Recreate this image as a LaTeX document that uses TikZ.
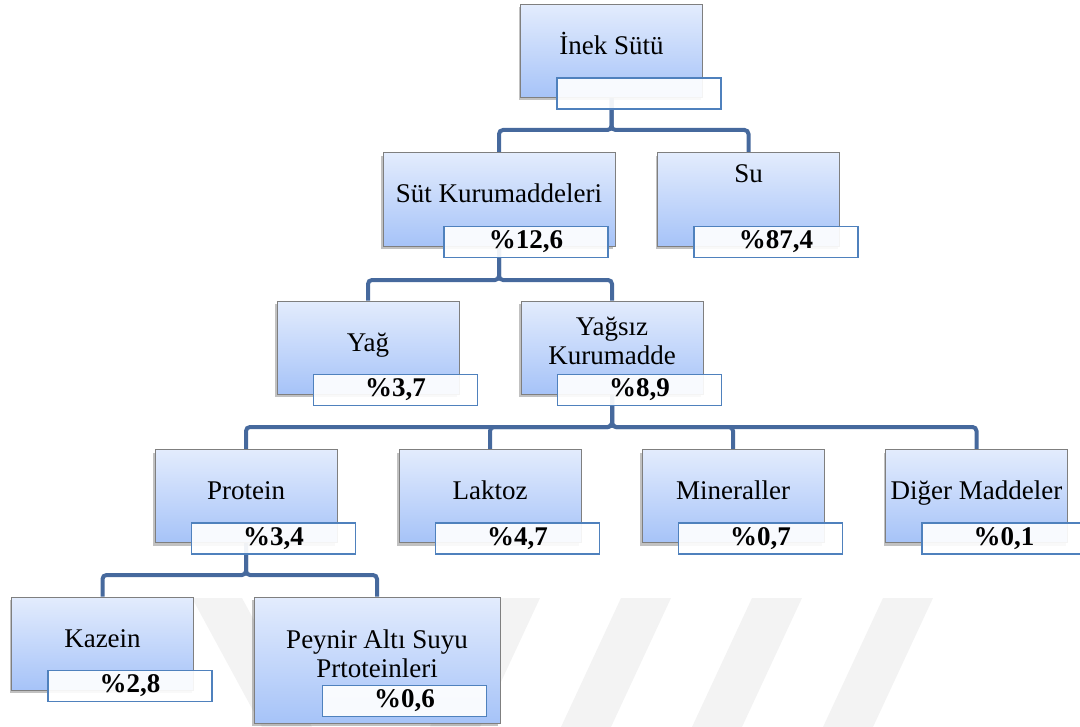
\documentclass[tikz,border=0pt]{standalone}
\usepackage{fontspec}
\setmainfont{Liberation Serif}
\usetikzlibrary{shadows, backgrounds}
\definecolor{kutuust}{HTML}{E3ECFD}
\definecolor{kutualt}{HTML}{A6C3F8}
\definecolor{kutucizgi}{HTML}{7F7F7F}
\definecolor{yuzdecizgi}{HTML}{4F81BD}
\definecolor{baglanti}{HTML}{46699D}
\definecolor{filigran}{HTML}{F3F3F3}

\begin{document}
\begin{tikzpicture}[x=0.5pt, y=-0.5pt,
    kutu/.style={rectangle, draw=kutucizgi, line width=0.5pt, top color=kutuust, bottom color=kutualt,
      minimum width=91pt, minimum height=46.5pt, inner sep=0pt,
      drop shadow={shadow xshift=-1pt, shadow yshift=-1.5pt, opacity=0.35, fill=black!70}},
    yuzde/.style={rectangle, draw=yuzdecizgi, line width=0.8pt, fill=white, fill opacity=0.92, text opacity=1,
      minimum width=82pt, minimum height=15.5pt, inner sep=0pt, font=\fontsize{13.5}{14.5}\selectfont\bfseries},
    ad/.style={inner sep=0pt, anchor=base, align=center, font=\fontsize{13.5}{14.5}\selectfont},
    bag/.style={draw=baglanti, line width=2pt, rounded corners=2pt}]
  \useasboundingbox (0,0) rectangle (1080,727);

  % baglanti hatlari
  \coordinate (bus1) at (0,130);
  \coordinate (bus2) at (0,280);
  \coordinate (bus3) at (0,427);
  \coordinate (bus4) at (0,575);

  % 1. seviye
  \node[kutu] (inek) at (611.5,51) {};
  \node[ad] (inek-a) at ([yshift=-1.75pt]inek.center) {İnek Sütü};
  \node[yuzde] (inek-y) at ([shift={(27.5,42.5)}]inek.center) {};

  % 2. seviye
  \node[kutu, minimum width=116pt] (sut) at (499,199.5) {};
  \node[ad] (sut-a) at ([yshift=-1.75pt]sut.center) {Süt Kurumaddeleri};
  \node[yuzde] (sut-y) at ([shift={(27,42.5)}]sut.center) {\%12,6};

  \node[kutu] (su) at (748.5,199.5) {};
  \node[ad] (su-a) at ([yshift=8.25pt]su.center) {Su};
  \node[yuzde] (su-y) at ([shift={(27.5,42.5)}]su.center) {\%87,4};

  % 3. seviye
  \node[kutu] (yag) at (368,347.5) {};
  \node[ad] (yag-a) at ([yshift=-1.75pt]yag.center) {Yağ};
  \node[yuzde] (yag-y) at ([shift={(27.5,42.5)}]yag.center) {\%3,7};

  \node[kutu] (yagsiz) at (612,347.5) {};
  \node[ad] (yagsiz-a) at ([yshift=-8.25pt]yagsiz.center) {Yağsız\\Kurumadde};
  \node[yuzde] (yagsiz-y) at ([shift={(27.5,42.5)}]yagsiz.center) {\%8,9};

  % 4. seviye
  \node[kutu] (protein) at (246,496) {};
  \node[ad] (protein-a) at ([yshift=-1.75pt]protein.center) {Protein};
  \node[yuzde] (protein-y) at ([shift={(27.5,42.5)}]protein.center) {\%3,4};

  \node[kutu] (laktoz) at (490,496) {};
  \node[ad] (laktoz-a) at ([yshift=-1.75pt]laktoz.center) {Laktoz};
  \node[yuzde] (laktoz-y) at ([shift={(27.5,42.5)}]laktoz.center) {\%4,7};

  \node[kutu] (mineral) at (733,496) {};
  \node[ad] (mineral-a) at ([yshift=-1.75pt]mineral.center) {Mineraller};
  \node[yuzde] (mineral-y) at ([shift={(27.5,42.5)}]mineral.center) {\%0,7};

  \node[kutu] (diger) at (976.5,496) {};
  \node[ad] (diger-a) at ([yshift=-1.75pt]diger.center) {Diğer Maddeler};
  \node[yuzde] (diger-y) at ([shift={(27.5,42.5)}]diger.center) {\%0,1};

  % 5. seviye
  \node[kutu] (kazein) at (102.5,643.5) {};
  \node[ad] (kazein-a) at ([yshift=-1.75pt]kazein.center) {Kazein};
  \node[yuzde] (kazein-y) at ([shift={(27.5,42.5)}]kazein.center) {\%2,8};

  \node[kutu, minimum width=123pt, minimum height=63pt] (peynir) at (377,660) {};
  \node[ad] (peynir-a) at ([yshift=-8.5pt]peynir.center) {Peynir Altı Suyu\\Prtoteinleri};
  \node[yuzde] (peynir-y) at ([shift={(27.5,41)}]peynir.center) {\%0,6};

  \begin{scope}[on background layer]
    % filigran
    \fill[filigran] (192,598) -- (242,598) -- (312,727) -- (262,727) -- cycle;
    \foreach \x in {490,621,752,883}
      \fill[filigran] (\x,598) -- (\x+50,598) -- (\x-10,727) -- (\x-60,727) -- cycle;
    % hatlar
    \draw[bag] (inek.south) |- (sut.north |- bus1) -- (sut.north);
    \draw[bag] (inek.south) |- (su.north |- bus1) -- (su.north);
    \draw[bag] (sut.south) |- (yag.north |- bus2) -- (yag.north);
    \draw[bag] (sut.south) |- (yagsiz.north |- bus2) -- (yagsiz.north);
    \draw[bag] (yagsiz.south) |- (protein.north |- bus3) -- (protein.north);
    \draw[bag] (yagsiz.south) |- (laktoz.north |- bus3) -- (laktoz.north);
    \draw[bag] (yagsiz.south) |- (mineral.north |- bus3) -- (mineral.north);
    \draw[bag] (yagsiz.south) |- (diger.north |- bus3) -- (diger.north);
    \draw[bag] (protein.south) |- (kazein.north |- bus4) -- (kazein.north);
    \draw[bag] (protein.south) |- (peynir.north |- bus4) -- (peynir.north);
  \end{scope}
\end{tikzpicture}
\end{document}
